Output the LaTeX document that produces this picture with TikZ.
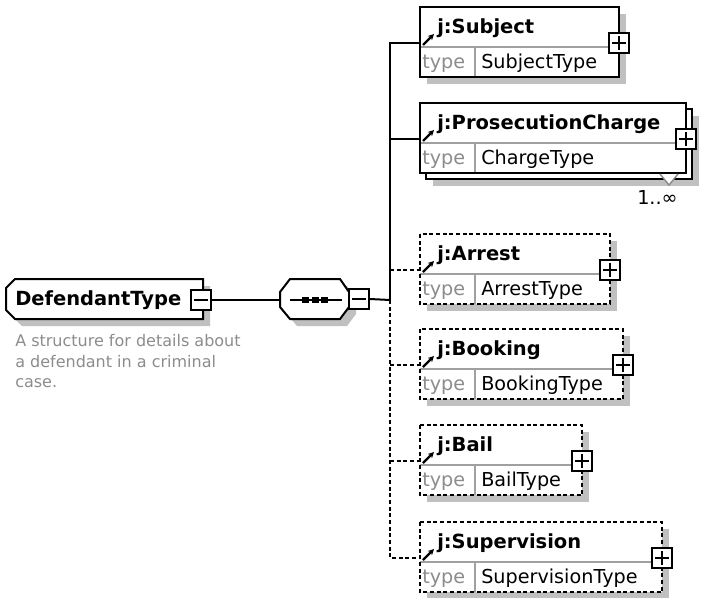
\documentclass[tikz,border=0pt]{standalone}
\usepackage{fontspec}
\setmainfont{DejaVu Sans}
\usetikzlibrary{arrows.meta}
\definecolor{shadowc}{HTML}{C0C0C0}
\definecolor{graytxt}{HTML}{8C8C8C}
\definecolor{divc}{HTML}{A0A0A0}
\newcommand\fsname{\fontsize{14.6pt}{16pt}\selectfont\bfseries}
\newcommand\fstype{\fontsize{14.4pt}{16pt}\selectfont}
\newcommand\fsdesc{\fontsize{12pt}{15pt}\selectfont}
\tikzset{
  boxline/.style={draw=black, line width=1.5pt},
  optline/.style={dash pattern=on 3pt off 2pt},
  divline/.style={draw=divc, line width=1.1pt},
  conn/.style={draw=black, line width=1.5pt},
  txt/.style={inner sep=0pt, anchor=base west},
  nametext/.style={txt, font=\fsname},
  typelabel/.style={txt, font=\fstype, text=graytxt},
  typetext/.style={txt, font=\fstype},
  pmbox/.style={draw=black, fill=white, line width=1.5pt, minimum size=15pt, inner sep=0pt},
  signline/.style={line width=1.4pt},
  arrowicon/.style={line width=1.7pt, -{Stealth[length=4.5pt,width=4.5pt]}},
}
\newcommand\xshadow[3]{\fill[shadowc] (420+#3,#1+#3) rectangle (#2+#3,#1+70+#3);}
\newcommand\xback[2]{\draw[boxline,fill=white] (426,#1+6) rectangle (#2+6,#1+76);}
\newcommand\xfront[6]{%
  \fill[white] (420,#2) rectangle (#3,#2+70);
  \draw[divline] (420,#2+40) -- (#3,#2+40);
  \draw[divline] (475,#2+40) -- (475,#2+70);
  \draw[boxline,#6] (420,#2) rectangle (#3,#2+70);
  \node[nametext] (#1-name) at (437,#2+26) {#4};
  \node[typelabel] (#1-tl) at (422,#2+61) {type};
  \node[typetext] (#1-type) at (481,#2+61) {#5};
  \coordinate (#1-in) at (420,#2+36);
  \draw[arrowicon] (423,#2+38) -- (434,#2+27);
  \node[pmbox] (#1-plus) at (#3,#2+36) {};
  \draw[signline] ([xshift=-5pt]#1-plus.center) -- ([xshift=5pt]#1-plus.center)
     ([yshift=-5pt]#1-plus.center) -- ([yshift=5pt]#1-plus.center);
}
\begin{document}
\begin{tikzpicture}[x=0.75pt,y=-0.75pt]
\useasboundingbox (0,0) rectangle (702,597);
% DefendantType
\fill[shadowc,shift={(7,7)}] (15,279) -- (203,279) -- (203,319) -- (15,319) -- (6,310) -- (6,288) -- cycle;
\path[boxline,fill=white] (15,279) -- (203,279) -- (203,319) -- (15,319) -- (6,310) -- (6,288) -- cycle;
\node[nametext] (dt) at (15,305) {DefendantType};
\node[pmbox] (dt-minus) at (201,300) {};
\draw[signline] ([xshift=-5pt]dt-minus.center) -- ([xshift=5pt]dt-minus.center);
\node[txt,font=\fsdesc,text=graytxt] (desc1) at (15,346) {A structure for details about};
\node[txt,font=\fsdesc,text=graytxt] (desc2) at (15,367) {a defendant in a criminal};
\node[txt,font=\fsdesc,text=graytxt] (desc3) at (15,387) {case.};
% sequence
\fill[shadowc,shift={(7,7)}] (290,279) -- (340,279) -- (349,292) -- (349,307) -- (340,319) -- (290,319) -- (280,307) -- (280,292) -- cycle;
\path[boxline,fill=white] (290,279) -- (340,279) -- (349,292) -- (349,307) -- (340,319) -- (290,319) -- (280,307) -- (280,292) -- cycle;
\coordinate (seq-in) at (280,300);
\draw[signline] (290,300) -- (342,300);
\fill (302,297) rectangle (309,303);
\fill (311.5,297) rectangle (318.5,303);
\fill (321,297) rectangle (328,303);
\node[pmbox] (seq-minus) at (359,299) {};
\draw[signline] ([xshift=-5pt]seq-minus.center) -- ([xshift=5pt]seq-minus.center);
\coordinate (bus) at (390,300);
% elements
\xshadow{7}{619}{7}
\xfront{subj}{7}{619}{j:Subject}{SubjectType}{}
\xshadow{103}{686}{13}
\xback{103}{686}
\xfront{pc}{103}{686}{j:ProsecutionCharge}{ChargeType}{}
\fill[white] (660,174) -- (678,174) -- (669,185) -- cycle;
\draw[draw=graytxt,line width=1.1pt] (660,174) -- (669,185) -- (678,174);
\node[txt,font=\fstype] (pc-card) at (637,204) {1..∞};
\xshadow{234}{610}{7}
\xfront{arr}{234}{610}{j:Arrest}{ArrestType}{optline}
\xshadow{329}{623}{7}
\xfront{book}{329}{623}{j:Booking}{BookingType}{optline}
\xshadow{425}{582}{7}
\xfront{bail}{425}{582}{j:Bail}{BailType}{optline}
\xshadow{522}{662}{7}
\xfront{sup}{522}{662}{j:Supervision}{SupervisionType}{optline}
% connectors
\draw[conn] (dt-minus.east) -- (seq-in);
\draw[conn] (seq-minus.east) -- (bus);
\draw[conn] (bus) |- (subj-in);
\draw[conn] (pc-in -| bus) -- (pc-in);
\draw[conn,optline] (bus) |- (sup-in);
\draw[conn,optline] (arr-in -| bus) -- (arr-in);
\draw[conn,optline] (book-in -| bus) -- (book-in);
\draw[conn,optline] (bail-in -| bus) -- (bail-in);
\end{tikzpicture}
\end{document}
